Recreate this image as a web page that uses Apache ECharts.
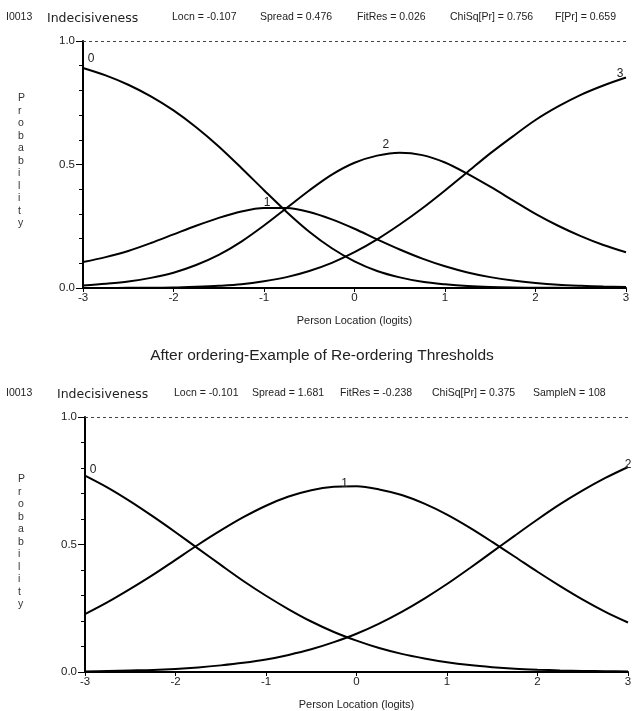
<!DOCTYPE html>
<html>
<head>
<meta charset="utf-8">
<script src="https://cdn.jsdelivr.net/npm/echarts@6/dist/echarts.min.js"></script>
<style>
html,body{margin:0;padding:0;background:#fff;}
#chart{width:644px;height:711px;}
</style>
</head>
<body>
<div id="chart"></div>
<script>
// ---- data ----
const xValues = [-3,-2.75,-2.5,-2.25,-2,-1.75,-1.5,-1.25,-1,-0.75,-0.5,-0.25,0,0.25,0.5,0.75,1,1.25,1.5,1.75,2,2.25,2.5,2.75,3];
const xTicks = [-3,-2,-1,0,1,2,3];
const yTickLabels = [0.0, 0.5, 1.0];

// Top chart (before re-ordering): categories 0..3
const top0 = [0.891,0.861,0.823,0.776,0.719,0.651,0.573,0.486,0.396,0.308,0.228,0.161,0.108,0.069,0.043,0.025,0.015,0.008,0.004,0.002,0.001,0.001,0.000,0.000,0.000];
const top1 = [0.105,0.125,0.150,0.182,0.217,0.252,0.284,0.310,0.324,0.324,0.308,0.278,0.240,0.197,0.156,0.119,0.088,0.063,0.044,0.030,0.020,0.013,0.009,0.006,0.004];
const top2 = [0.010,0.017,0.026,0.041,0.062,0.093,0.134,0.188,0.253,0.324,0.395,0.459,0.507,0.536,0.548,0.538,0.508,0.462,0.410,0.355,0.300,0.252,0.210,0.174,0.145];
const top3 = [0.000,0.000,0.001,0.001,0.002,0.005,0.009,0.015,0.027,0.044,0.069,0.102,0.145,0.197,0.257,0.323,0.395,0.470,0.545,0.614,0.680,0.735,0.782,0.820,0.852];

// Bottom chart (after ordering): categories 0..2
const bot0 = [0.770,0.723,0.669,0.610,0.548,0.484,0.420,0.357,0.299,0.246,0.198,0.157,0.123,0.094,0.071,0.053,0.038,0.027,0.019,0.013,0.009,0.006,0.004,0.003,0.002];
const bot1 = [0.227,0.274,0.326,0.381,0.440,0.499,0.555,0.607,0.652,0.688,0.713,0.726,0.728,0.716,0.694,0.660,0.617,0.566,0.510,0.452,0.393,0.337,0.284,0.236,0.194];
const bot2 = [0.002,0.004,0.006,0.008,0.012,0.018,0.026,0.036,0.049,0.067,0.089,0.117,0.150,0.190,0.236,0.288,0.345,0.407,0.471,0.535,0.598,0.658,0.712,0.761,0.804];

const topHeader = ['I0013','Indecisiveness','Locn = -0.107','Spread = 0.476','FitRes = 0.026','ChiSq[Pr] = 0.756','F[Pr] = 0.659'];
const botHeader = ['I0013','Indecisiveness','Locn = -0.101','Spread = 1.681','FitRes = -0.238','ChiSq[Pr] = 0.375','SampleN = 108'];
const middleTitle = 'After ordering-Example of Re-ordering Thresholds';
const xName = 'Person Location (logits)';
const yName = 'Probability';

// ---- build ----
const TXT = '#222';
const narrow = '"Liberation Sans Narrow","Liberation Sans",Arial,sans-serif';
const sans = '"Liberation Sans",Arial,sans-serif';

function lineSeries(idx, vals, labelIdx, label, offset, withMark) {
  const s = {
    type: 'line', xAxisIndex: idx, yAxisIndex: idx,
    data: vals.map((v, i) => [xValues[i], v]),
    showSymbol: false, symbol: 'none', smooth: 0.3,
    lineStyle: {color: '#000', width: 2},
    z: 3, silent: true, animation: false,
    markPoint: {
      silent: true, animation: false, symbol: 'circle', symbolSize: 1,
      itemStyle: {color: 'rgba(0,0,0,0)'},
      label: {show: true, formatter: label, position: 'inside', offset: offset,
        color: TXT, fontSize: 12, fontFamily: sans},
      data: [{coord: [xValues[labelIdx], vals[labelIdx]]}]
    }
  };
  if (withMark) {
    s.markLine = {
      silent: true, symbol: 'none', animation: false,
      label: {show: false},
      lineStyle: {color: '#444', type: [3, 3], width: 1},
      data: [{yAxis: 1}]
    };
  }
  return s;
}

function xAxisCfg(idx) {
  return {
    type: 'value', gridIndex: idx, min: -3, max: 3, interval: 1,
    axisLine: {show: true, onZero: false, lineStyle: {color: '#000', width: 2}},
    axisTick: {show: true, length: 4, lineStyle: {color: '#000', width: 1}},
    axisLabel: {color: TXT, fontSize: 11.5, fontFamily: sans, margin: 4,
      formatter: v => xTicks.includes(v) ? String(v) : ''},
    splitLine: {show: false},
    name: xName, nameLocation: 'middle', nameGap: 27,
    nameTextStyle: {color: TXT, fontSize: 11, fontFamily: narrow}
  };
}
function yAxisCfg(idx) {
  return {
    type: 'value', gridIndex: idx, min: 0, max: 1, interval: 0.5, position: 'left',
    axisLine: {show: true, onZero: false, lineStyle: {color: '#000', width: 2}},
    axisTick: {show: true, length: 7, lineStyle: {color: '#000', width: 1}},
    minorTick: {show: true, splitNumber: 5, length: 4, lineStyle: {color: '#000', width: 1}},
    axisLabel: {color: TXT, fontSize: 11.5, fontFamily: sans, margin: 8,
      formatter: v => yTickLabels.some(t => Math.abs(t - v) < 1e-9) ? v.toFixed(1) : ''},
    splitLine: {show: false}
  };
}

const headerXTop = [6, 47, 172, 260, 357, 450, 555];
const headerXBot = [6, 57, 174, 252, 340, 432, 533];

function headerGraphics(texts, xs, y) {
  return texts.map((t, i) => ({
    type: 'text', left: xs[i], top: y,
    style: {text: t, fill: TXT, fontSize: i === 1 ? 12.5 : 10.5, fontFamily: i === 1 ? '"DejaVu Sans",sans-serif' : narrow}
  }));
}
function yNameGraphic(cy) {
  const letters = yName.split('').join('\n');
  return {
    type: 'text', left: 18, top: cy - 68,
    style: {text: letters, fill: '#333', fontSize: 10.5, fontFamily: sans, lineHeight: 12.5, align: 'center'}
  };
}

const chart = echarts.init(document.getElementById('chart'), null, {renderer: 'canvas'});
chart.setOption({
  animation: false,
  backgroundColor: '#fff',
  grid: [
    {left: 83, right: 18, top: 41, height: 247},
    {left: 85, right: 16, top: 417, height: 256}
  ],
  xAxis: [xAxisCfg(0), xAxisCfg(1)],
  yAxis: [yAxisCfg(0), yAxisCfg(1)],
  graphic: [].concat(
    headerGraphics(topHeader, headerXTop, 12),
    headerGraphics(botHeader, headerXBot, 388),
    [{type: 'text', left: 'center', top: 348,
      style: {text: middleTitle, fill: TXT, fontSize: 15.5, fontFamily: sans}}],
    [yNameGraphic(160), yNameGraphic(541)]
  ),
  series: [
    lineSeries(0, top0, 0, '0', [8, -9], true),
    lineSeries(0, top1, 8, '1', [3, -5], false),
    lineSeries(0, top2, 14, '2', [-14, -8], false),
    lineSeries(0, top3, 24, '3', [-6, -4], false),
    lineSeries(1, bot0, 0, '0', [8, -6], true),
    lineSeries(1, bot1, 12, '1', [-12, -3], false),
    lineSeries(1, bot2, 24, '2', [0, -2], false)
  ]
});
</script>
</body>
</html>
